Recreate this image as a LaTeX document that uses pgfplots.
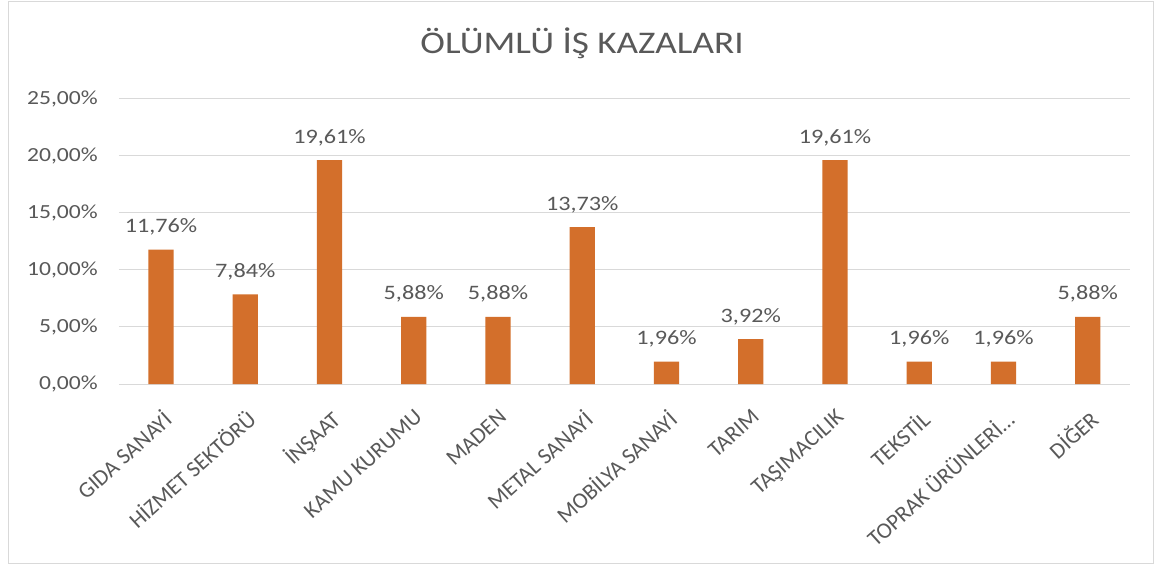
\documentclass[border=0pt]{standalone}
\usepackage{pgfplots}
\pgfplotsset{compat=1.18}
\usepackage{fontspec}
\setmainfont{Carlito}[FakeStretch=1.18]
\newfontfamily\lblfont{Carlito}
\definecolor{barc}{RGB}{211,111,43}
\definecolor{txt}{RGB}{89,89,89}
\definecolor{gridc}{RGB}{217,217,217}
\begin{document}
\begin{tikzpicture}
\path[use as bounding box] (0pt,0pt) rectangle (1159pt,568pt);
\fill[white] (0pt,0pt) rectangle (1159pt,568pt);
\draw[gridc, line width=1pt] (8pt,5pt) rectangle (1153pt,566pt);
\node[txt, font=\fontsize{31.5}{36}\selectfont, anchor=base] at (582pt,514pt) {ÖLÜMLÜ İŞ KAZALARI};
\begin{axis}[
  at={(118.9pt,184pt)}, anchor=south west,
  scale only axis, width=1011pt, height=285.5pt,
  xmin=-0.5, xmax=11.5, ymin=0, ymax=25,
  clip=false,
  axis line style={draw=none},
  major tick length=0pt,
  ymajorgrids, grid style={gridc, line width=1pt},
  ytick={0,5,10,15,20,25},
  /pgf/number format/assume math mode=true,
  yticklabel={\pgfmathprintnumber[fixed,fixed zerofill,precision=2,use comma]{\tick}\%},
  yticklabel style={font=\fontsize{20}{24}\selectfont, text=txt, anchor=east, inner sep=0pt, xshift=-21pt},
  xtick={0,1,2,3,4,5,6,7,8,9,10,11},
  xticklabels={GIDA SANAYİ, HİZMET SEKTÖRÜ, İNŞAAT, KAMU KURUMU, MADEN, METAL SANAYİ, MOBİLYA SANAYİ, TARIM, TAŞIMACILIK, TEKSTİL, TOPRAK ÜRÜNLERİ…, DİĞER},
  xticklabel shift=24pt,
  xticklabel style={font=\lblfont\fontsize{22.5}{26}\selectfont, text=txt, inner sep=0pt, rotate=42, anchor=north east},
  ybar, bar width=25.3pt, bar shift=0pt,
  nodes near coords={\pgfmathprintnumber[fixed,fixed zerofill,precision=2,use comma]{\pgfplotspointmeta}\%},
  nodes near coords style={font=\fontsize{20.5}{24}\selectfont, text=txt, anchor=base, inner sep=0pt, yshift=17pt},
]
\addplot[fill=barc, draw=none] coordinates {
(0,11.76) (1,7.84) (2,19.61) (3,5.88) (4,5.88) (5,13.73)
(6,1.96) (7,3.92) (8,19.61) (9,1.96) (10,1.96) (11,5.88)
};
\end{axis}
\end{tikzpicture}
\end{document}
